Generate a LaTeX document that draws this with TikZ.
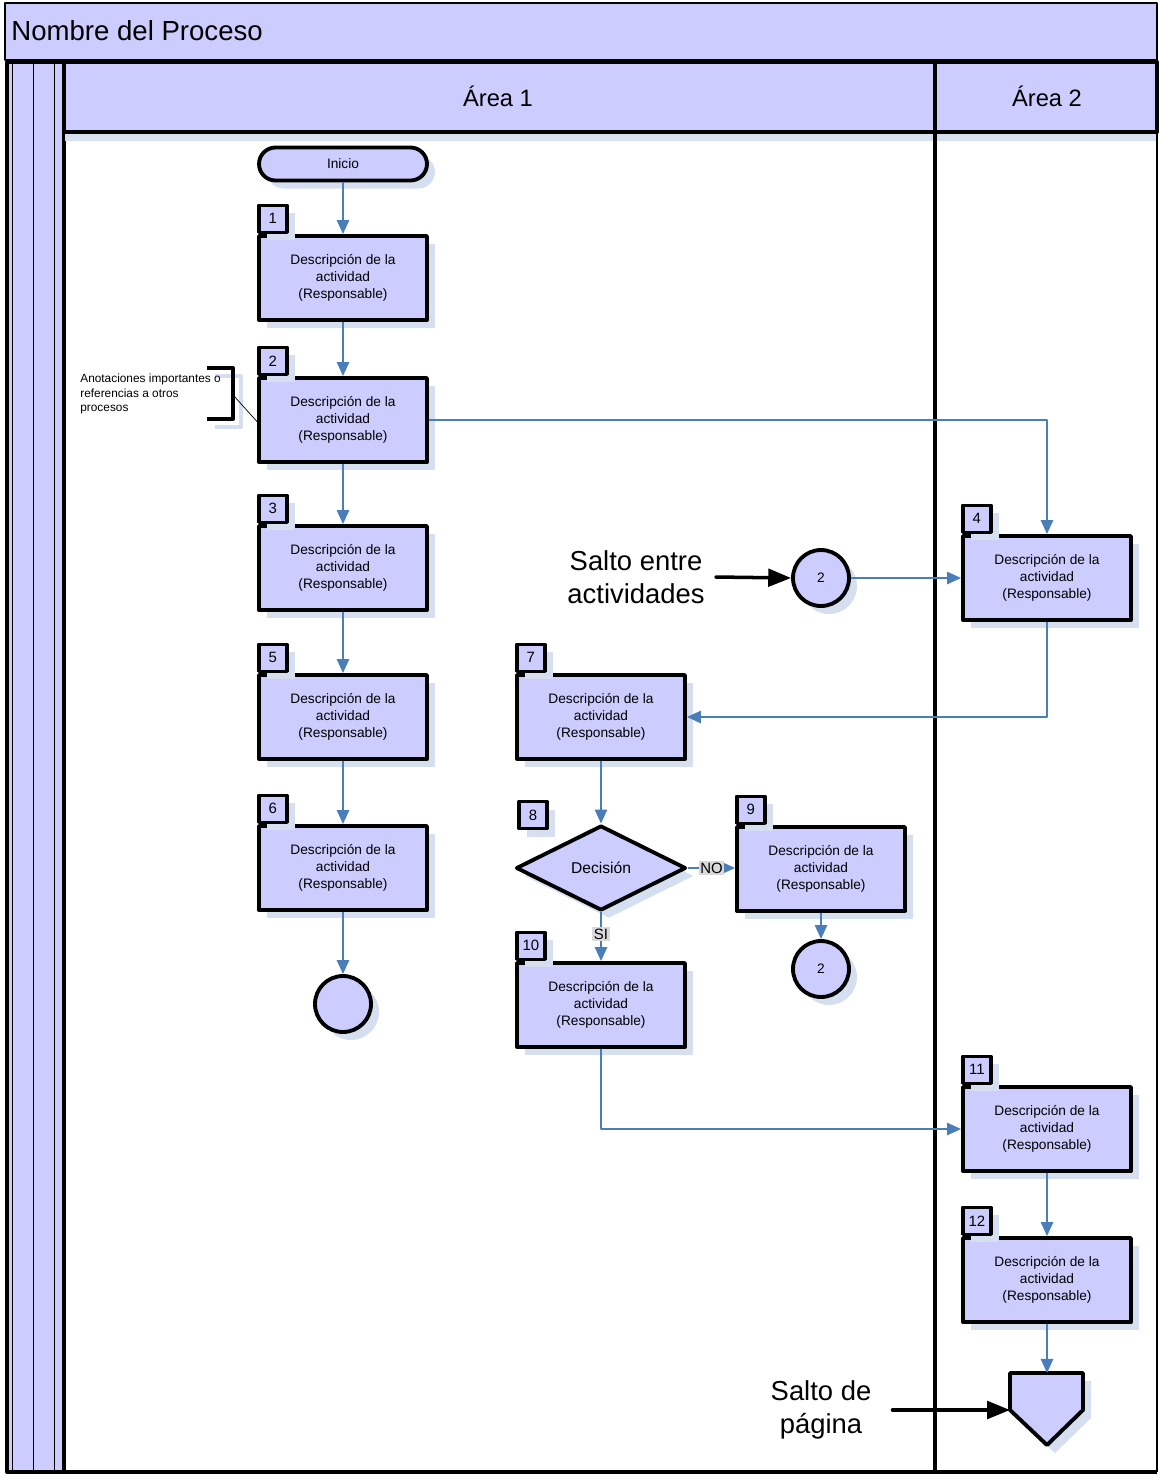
\documentclass[tikz,border=0pt]{standalone}
\usepackage{fontspec}
\setmainfont{Liberation Sans}
\usetikzlibrary{shapes.geometric,shadows,arrows.meta}
\definecolor{lav}{HTML}{CCCCFF}
\definecolor{flowblue}{HTML}{4A7EBB}
\definecolor{shd}{HTML}{D5DFF0}
\tikzset{
  sombra/.style={drop shadow={shadow xshift=0.16cm, shadow yshift=-0.16cm, fill=shd, opacity=1}},
  activity/.style={draw, line width=2.2pt, fill=lav, minimum width=3.36cm, minimum height=1.68cm, align=center, inner sep=1pt, sombra},
  numtab/.style={draw, line width=2pt, fill=lav, minimum width=0.56cm, minimum height=0.54cm, inner sep=0pt, anchor=south west, font=\fontsize{8.5}{10}\selectfont, sombra},
  terminal/.style={draw, line width=2.2pt, fill=lav, rounded corners=0.33cm, minimum width=3.36cm, minimum height=0.66cm, sombra},
  decision/.style={diamond, draw, line width=2.2pt, fill=lav, minimum width=3.4cm, minimum height=1.7cm, aspect=2, inner sep=0pt, font=\fontsize{8.9}{10}\selectfont, sombra},
  jump/.style={circle, draw, line width=2.2pt, fill=lav, minimum size=1.12cm, inner sep=0pt, sombra},
  flow/.style={draw=flowblue, line width=1.1pt, -{Triangle[length=8pt,width=7pt]}},
  bigarrow/.style={line width=2pt, line cap=round, -{Triangle[length=13pt,width=10pt]}},
  lbl/.style={fill=black!15, inner sep=1pt, font=\fontsize{8.5}{10}\selectfont},
  rotulo/.style={align=center, font=\fontsize{15.6}{18.7}\selectfont}
}
\begin{document}
\begin{tikzpicture}[x=0.02cm, y=-0.02cm, font=\fontsize{7.8}{9.6}\selectfont, line join=round]
\useasboundingbox (0,0) rectangle (1159,1475);
% lanes and headers
\filldraw[fill=lav, line width=1.4pt] (5,3) rectangle (1157,60);
\node[anchor=west, inner sep=0pt, font=\fontsize{15.7}{18}\selectfont] (titulo) at (11,31) {Nombre del Proceso};
\filldraw[fill=lav, line width=2.2pt] (7,62) rectangle (64,1472);
\foreach \x in {12,33,54} \draw[thin] (\x,62) -- (\x,1472);
\fill[shd] (65,134) rectangle (1157,141);
\filldraw[fill=lav, line width=2.2pt] (64,62) rectangle (935,132);
\filldraw[fill=lav, line width=2.2pt] (935,62) rectangle (1157,132);
\node[font=\fontsize{13.5}{16}\selectfont] (area1) at (498,96) {Área 1};
\node[font=\fontsize{13.5}{16}\selectfont] (area2) at (1047,96) {Área 2};
\draw[line width=2.2pt] (935,132) -- (935,1472);
\draw[line width=2.2pt] (7,1472) -- (1157,1472);
\draw[line width=0.8pt] (1157,60) -- (1157,1472);
% activities
\node[terminal] (ini) at (343,164) {Inicio};
\foreach \n/\x/\y in {1/343/278, 2/343/420, 3/343/568, 5/343/717, 6/343/868, 7/601/717, 9/821/869, 10/601/1005, 4/1047/578, 11/1047/1129, 12/1047/1280} {
  \node[activity] (a\n) at (\x,\y) {Descripción de la\\actividad\\(Responsable)};
  \node[numtab] (t\n) at (a\n.north west) {\n};
}
\node[numtab, anchor=center] (n8) at (533,815) {8};
\node[decision] (dec) at (601,868) {Decisión};
\node[jump] (j1) at (821,578) {2};
\node[jump] (j2) at (821,969) {2};
\node[jump] (j0) at (343,1004) {};
% off-page connector
\path (1047,1373) coordinate (pg) (1010,1410) coordinate (pgw);
\fill[shd] (1018,1381) -- (1091,1381) -- (1091,1418) -- (1055,1453) -- (1018,1418) -- cycle;
\filldraw[fill=lav, line width=2.2pt] (1010,1373) -- (1083,1373) -- (1083,1410) -- (1047,1445) -- (pgw) -- cycle;
% notes
\node[rotulo] (s1) at (636,577) {Salto entre\\actividades};
\node[rotulo] (s2) at (821,1410) {Salto de\\página};
\path (207,368) coordinate (b1) (233,368) coordinate (b2) (233,419) coordinate (b3) (207,419) coordinate (b4) (234,396) coordinate (bm);
\draw[shd, line width=2.2pt] (215,376) -| (241,427) -- (215,427);
\node[anchor=north west, align=left, inner sep=0pt, font=\fontsize{6.75}{8.2}\selectfont] (nota) at (80,374) {Anotaciones importantes o\\referencias a otros\\procesos};
\draw[line width=2.2pt] (b1) -- (b2) -- (b3) -- (b4);
\draw[thin] (bm) -- ([xshift=0.06cm,yshift=-0.1cm]a2.west);
\draw[bigarrow] ([xshift=0.1cm]s1.east) -- (j1.west);
\draw[bigarrow] ([xshift=0.3cm]s2.east) -- (pgw);
% flow
\draw[flow] (ini) -- (a1);
\foreach \p/\q in {a1/a2, a2/a3, a3/a5, a5/a6, a6/j0, a7/dec, a9/j2, a11/a12}
  \draw[flow] (\p) -- (\q);
\draw[flow] (a12) -- (pg);
\draw[flow] (a2.east) -| (a4.north);
\draw[flow] (j1.east) -- (a4.west);
\draw[flow] (a4.south) |- (a7.east);
\draw[flow] (dec.east) -- node[lbl] {NO} (dec.east -| a9.west);
\draw[flow] (dec.south) -- node[lbl, pos=0.45] {SI} (a10.north);
\draw[flow] (a10.south) |- (a11.west);
\end{tikzpicture}
\end{document}
